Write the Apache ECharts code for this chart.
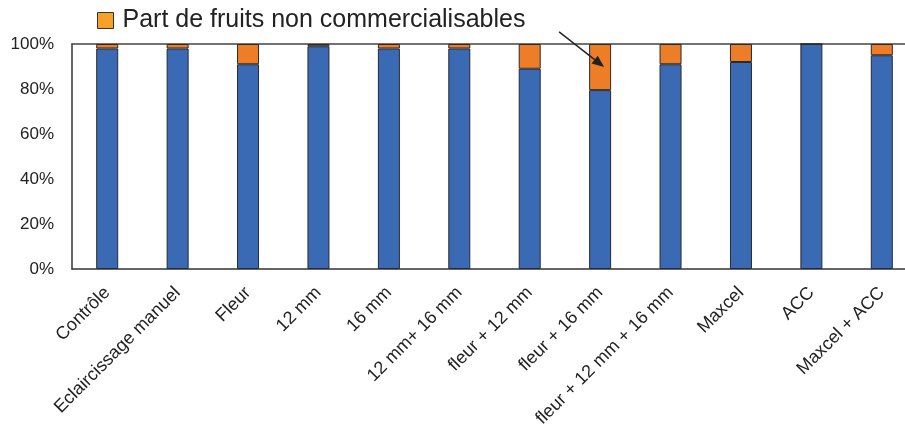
<!DOCTYPE html>
<html>
<head>
<meta charset="utf-8">
<script src="https://cdn.jsdelivr.net/npm/echarts@6/dist/echarts.min.js"></script>
<style>
  html, body { margin: 0; padding: 0; background: #fff; }
  #chart { width: 905px; height: 428px; }
</style>
</head>
<body>
<div id="chart"></div>
<script>
// Traitements d'éclaircissage
const categories = [
  'Contrôle', 'Eclaircissage manuel', 'Fleur', '12 mm', '16 mm', '12 mm+ 16 mm',
  'fleur + 12 mm', 'fleur + 16 mm', 'fleur + 12 mm + 16 mm', 'Maxcel', 'ACC', 'Maxcel + ACC'
];
// Part de fruits commercialisables (%)
const commercialisables = [98, 98, 91, 99, 98, 98, 89, 79.5, 91, 92, 100, 95];
// Part de fruits non commercialisables (%)
const nonCommercialisables = [2, 2, 9, 1, 2, 2, 11, 20.5, 9, 8, 0, 5];
const yTicks = [0, 20, 40, 60, 80, 100];

const chart = echarts.init(document.getElementById('chart'));
const font = 'Liberation Sans, Arial, sans-serif';

chart.setOption({
  animation: false,
  textStyle: { fontFamily: font },
  legend: {
    data: [{
      name: 'Part de fruits non commercialisables',
      icon: 'rect',
      itemStyle: { color: '#F7A02A', borderColor: '#333', borderWidth: 1 }
    }],
    left: 92, top: 3,
    itemWidth: 16, itemHeight: 16, itemGap: 13,
    textStyle: { fontSize: 25, color: '#222', fontFamily: font, padding: [0, 0, 0, 4] },
    selectedMode: false
  },
  grid: { left: 72, top: 44, width: 845, height: 225, containLabel: false, outerBoundsMode: 'none' },
  xAxis: [{
    type: 'category',
    data: categories,
    axisLine: { lineStyle: { color: '#333', width: 1.5 } },
    axisTick: { show: false },
    axisLabel: { rotate: 45, fontSize: 18, color: '#222', margin: 21, interval: 0, fontFamily: font }
  }, {
    type: 'category',
    position: 'top',
    data: categories,
    axisLine: { lineStyle: { color: '#444', width: 1.5 } },
    axisTick: { show: false },
    axisLabel: { show: false }
  }],
  yAxis: {
    type: 'value',
    min: yTicks[0], max: yTicks[yTicks.length - 1], interval: 20,
    axisLine: { show: true, lineStyle: { color: '#333', width: 1.5 } },
    axisTick: { show: false },
    splitLine: { show: false },
    axisLabel: { formatter: '{value}%', fontSize: 17, color: '#222', margin: 18, fontFamily: font }
  },
  series: [{
    name: 'Part de fruits commercialisables',
    type: 'bar',
    stack: 'total',
    data: commercialisables,
    barWidth: 22,
    itemStyle: { color: '#3A6AB4', borderColor: '#2a2a2a', borderWidth: 1 }
  }, {
    name: 'Part de fruits non commercialisables',
    type: 'bar',
    stack: 'total',
    data: nonCommercialisables,
    barWidth: 22,
    itemStyle: { color: '#ED7D27', borderColor: '#2a2a2a', borderWidth: 1 }
  }]
});

// Flèche pointant vers le traitement "fleur + 16 mm"
const tip = chart.convertToPixel({ xAxisIndex: 0, yAxisIndex: 0 }, [categories[7], 89.8]);
const tx = tip[0] + 4, ty = tip[1];
const dx = 45, dy = 35;
const len = Math.sqrt(dx * dx + dy * dy);
const ux = dx / len, uy = dy / len;
const headLen = 12, headHalf = 5;
const bx = tx - ux * headLen, by = ty - uy * headLen;
chart.setOption({
  graphic: [{
    type: 'line',
    z: 100,
    shape: { x1: tx - dx, y1: ty - dy, x2: bx, y2: by },
    style: { stroke: '#222', lineWidth: 1.5 }
  }, {
    type: 'polygon',
    z: 100,
    shape: {
      points: [
        [tx, ty],
        [bx - uy * headHalf, by + ux * headHalf],
        [bx + uy * headHalf, by - ux * headHalf]
      ]
    },
    style: { fill: '#222' }
  }]
});
</script>
</body>
</html>
